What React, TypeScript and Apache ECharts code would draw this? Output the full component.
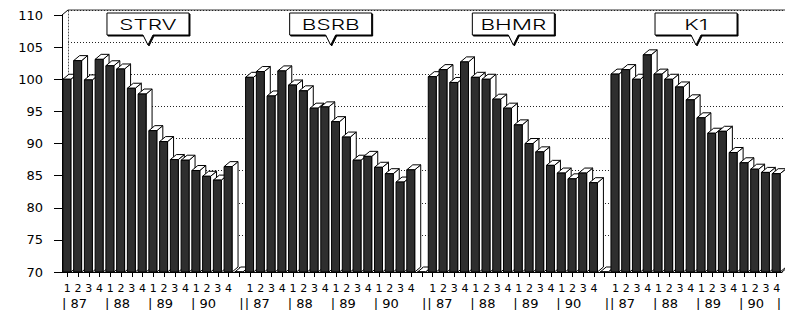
import React, { useEffect, useRef } from 'react';
import * as echarts from 'echarts';

const groups = ['STRV', 'BSRB', 'BHMR', 'K1'];
const quarters = ['1', '2', '3', '4'];
const years = ['87', '88', '89', '90'];

const strv = [100.0, 102.9, 99.9, 103.1, 102.1, 101.6, 98.6, 97.7, 92.0, 90.3, 87.5, 87.4, 85.8, 84.9, 84.3, 86.4];
const bsrb = [100.3, 101.2, 97.4, 101.3, 99.1, 98.2, 95.5, 95.7, 93.4, 91.0, 87.4, 88.0, 86.3, 85.3, 84.0, 85.9];
const bhmr = [100.4, 101.5, 99.5, 102.7, 100.3, 100.0, 96.9, 95.5, 92.9, 90.0, 88.7, 86.6, 85.4, 84.5, 85.4, 83.9];
const k1 = [100.8, 101.5, 100.0, 103.8, 100.8, 100.0, 98.8, 96.8, 94.0, 91.6, 91.9, 88.6, 87.0, 86.0, 85.5, 85.3];

const yMin = 70;
const yMax = 110;
const yStep = 5;

const groupValues = [strv, bsrb, bhmr, k1];

// layout
const G = { left: 62, top: 15, width: 720, height: 257 };
const DX = 6;
const DY = 5;
const FONT = 'DejaVu Sans';
const CALLOUT_FONT = 'Inter';

// build categories (16 quarters per group + 1 empty slot between groups)
const categories: string[] = [];
const barData: any[] = [];
const groupStarts: number[] = [];
groupValues.forEach((vals, g) => {
  groupStarts.push(categories.length);
  years.forEach((_, yi) => {
    quarters.forEach((q, qi) => {
      barData.push([categories.length, vals[yi * 4 + qi]]);
      categories.push(q);
    });
  });
  if (g < groupValues.length - 1) {
    barData.push([categories.length, yMin]);
    categories.push('');
  }
});

// year row on half-slot positions (slot boundaries and centres)
const nHalf = categories.length * 2 + 1;
const yearRow: string[] = new Array(nHalf).fill('');
groupStarts.forEach((s) => {
  years.forEach((yr, yi) => {
    const b = s + yi * 4;
    yearRow[2 * b] = '| ' + yr;
  });
  const t = Math.min(2 * (s + 16) + 1, nHalf - 2);
  yearRow[t] = '|';
});

function renderBar(params: any, api: any) {
  const idx = api.value(0);
  const val = api.value(1);
  const top = api.coord([idx, val]);
  const base = api.coord([idx, yMin]);
  const slot = api.size([1, 0])[0];
  const w = slot * 0.74;
  const x0 = top[0] - w / 2 - 0.5;
  const yT = top[1];
  const yB = base[1];
  const st = { stroke: '#000', lineWidth: 1 };
  return {
    type: 'group',
    children: [
      {
        type: 'polygon',
        shape: { points: [[x0 + w, yT], [x0 + w + DX, yT - DY], [x0 + w + DX, yB - DY], [x0 + w, yB]] },
        style: { fill: '#fff', ...st },
      },
      {
        type: 'polygon',
        shape: { points: [[x0, yT], [x0 + DX, yT - DY], [x0 + w + DX, yT - DY], [x0 + w, yT]] },
        style: { fill: '#fff', ...st },
      },
      {
        type: 'rect',
        shape: { x: x0, y: yT, width: w, height: Math.max(0, yB - yT) },
        style: { fill: '#2e2e2e', ...st },
      },
    ],
  };
}

function renderCallout(params: any, api: any) {
  const s = api.value(0);
  const p1 = api.coord([s + 7, yMax]);
  const p2 = api.coord([s + 8, yMax]);
  const cx = (p1[0] + p2[0]) / 2;
  const T = p1[1] - 2;
  const B = T + 22;
  const L = cx - 41;
  const R = cx + 41;
  const pts = [[L, T], [R, T], [R, B], [cx + 5, B], [cx, B + 10], [cx - 5, B], [L, B]];
  return {
    type: 'group',
    children: [
      {
        type: 'polygon',
        shape: { points: pts.map((p) => [p[0] + 1, p[1] + 1]) },
        style: { fill: '#000', stroke: '#000', lineWidth: 1 },
      },
      {
        type: 'polygon',
        shape: { points: pts },
        style: { fill: '#fff', stroke: '#000', lineWidth: 1 },
      },
      {
        type: 'text',
        x: cx,
        y: (T + B) / 2 + 1,
        scaleX: 1.5,
        style: {
          text: groups[params.dataIndex],
          fontSize: 15,
          fontWeight: 300,
          fontFamily: CALLOUT_FONT,
          fill: '#000',
          stroke: 'none',
          lineWidth: 0,
          align: 'center',
          verticalAlign: 'middle',
        },
      },
    ],
  };
}

const option: any = {
  animation: false,
  backgroundColor: '#fff',
  textStyle: { fontFamily: FONT, fontWeight: 'normal' },
  grid: [
    { left: G.left, top: G.top, width: G.width, height: G.height },
    { left: G.left + DX, top: G.top - DY, width: G.width, height: G.height },
  ],
  xAxis: [
    {
      type: 'category',
      gridIndex: 0,
      data: categories,
      boundaryGap: true,
      axisLine: { show: true, lineStyle: { color: '#000', width: 1 } },
      axisTick: { show: true, alignWithLabel: true, interval: 0, length: 5, lineStyle: { color: '#000' } },
      axisLabel: { interval: 0, margin: 11, fontSize: 11, lineHeight: 11, color: '#000', fontFamily: FONT },
      splitLine: { show: false },
    },
    {
      type: 'category',
      gridIndex: 0,
      data: yearRow,
      boundaryGap: false,
      position: 'bottom',
      offset: 11,
      axisLine: { show: false },
      axisTick: { show: false },
      axisLabel: {
        interval: 0,
        margin: 14,
        fontSize: 13,
        lineHeight: 13,
        align: 'left',
        color: '#000',
        fontFamily: FONT,
      },
      splitLine: { show: false },
    },
    {
      type: 'category',
      gridIndex: 1,
      data: categories,
      show: false,
    },
  ],
  yAxis: [
    {
      type: 'value',
      gridIndex: 0,
      min: yMin,
      max: yMax,
      interval: yStep,
      axisLine: { show: true, lineStyle: { color: '#000', width: 1 } },
      axisTick: { show: true, length: 8, lineStyle: { color: '#000' } },
      axisLabel: { margin: 19, fontSize: 13, color: '#000', fontFamily: FONT },
      splitLine: { show: false },
    },
    {
      type: 'value',
      gridIndex: 1,
      min: yMin,
      max: yMax,
      interval: yStep,
      axisLine: { show: true, lineStyle: { color: '#555', width: 1, type: [1, 2] } },
      axisTick: { show: false },
      axisLabel: { show: false },
      splitLine: { show: true, lineStyle: { color: '#222', width: 1, type: [1, 2] } },
    },
  ],
  graphic: [
    {
      type: 'line',
      shape: { x1: G.left, y1: G.top, x2: G.left + DX, y2: G.top - DY },
      style: { stroke: '#000', lineWidth: 1 },
    },
    {
      type: 'line',
      shape: { x1: G.left + DX, y1: G.top - DY, x2: G.left + DX + G.width, y2: G.top - DY },
      style: { stroke: '#333', lineWidth: 1 },
    },
    {
      type: 'line',
      shape: { x1: G.left + G.width, y1: G.top + G.height, x2: G.left + G.width + DX, y2: G.top + G.height - DY },
      style: { stroke: '#000', lineWidth: 1 },
    },
  ],
  series: [
    {
      type: 'custom',
      name: 'bars',
      xAxisIndex: 0,
      yAxisIndex: 0,
      clip: false,
      data: barData,
      renderItem: renderBar,
      z: 3,
    },
    {
      type: 'custom',
      name: 'labels',
      xAxisIndex: 0,
      yAxisIndex: 0,
      clip: false,
      data: groupStarts.map((s) => [s, yMax]),
      renderItem: renderCallout,
      z: 5,
    },
  ],
};

export default function App() {
  const ref = useRef<HTMLDivElement>(null);
  useEffect(() => {
    const chart = echarts.init(ref.current!, null, { renderer: 'svg' });
    chart.setOption(option);
    return () => chart.dispose();
  }, []);
  return (
    <div
      ref={ref}
      style={{ position: 'fixed', left: 0, top: 0, width: 785, height: 310, background: '#fff' }}
    />
  );
}
